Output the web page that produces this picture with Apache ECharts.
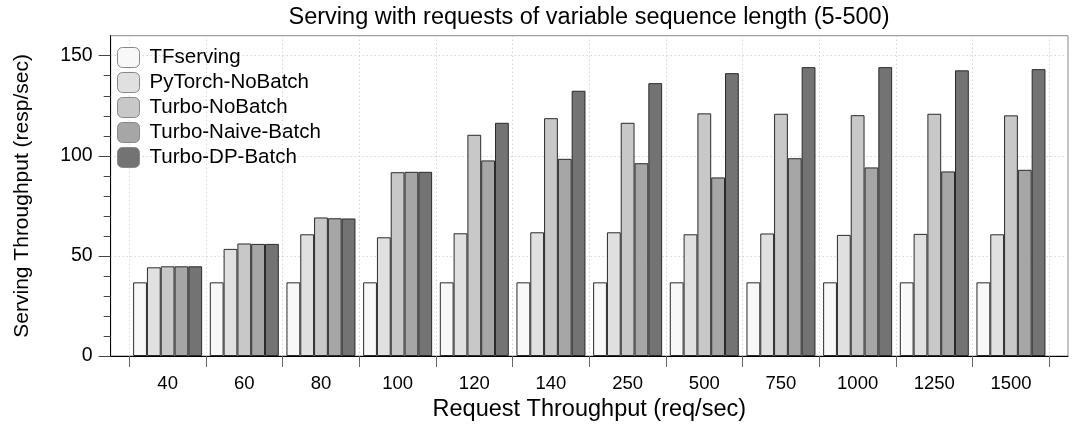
<!DOCTYPE html>
<html>
<head>
<meta charset="utf-8">
<script src="https://cdn.jsdelivr.net/npm/echarts@6/dist/echarts.min.js"></script>
<style>
html,body{margin:0;padding:0;background:#fff;}
#chart{width:1080px;height:434px;}
</style>
</head>
<body>
<div id="chart"></div>
<script>
const categories = ['40','60','80','100','120','140','250','500','750','1000','1250','1500'];
const tfserving = [36.8,36.8,36.8,36.8,36.8,36.8,36.8,36.8,36.8,36.8,36.8,36.8];
const pytorchNoBatch = [44.3,53.5,60.8,59.3,61.3,61.8,61.8,60.8,61.2,60.5,61.0,60.8];
const turboNoBatch = [44.8,56.2,69.2,91.8,110.5,118.8,116.5,121.2,121.0,120.3,121.0,120.2];
const turboNaiveBatch = [44.8,56.0,68.8,92.0,97.7,98.5,96.3,89.2,98.8,94.2,92.2,93.0];
const turboDPBatch = [44.8,56.0,68.7,92.0,116.5,132.5,136.3,141.3,144.3,144.3,142.7,143.3];
const seriesNames = ['TFserving','PyTorch-NoBatch','Turbo-NoBatch','Turbo-Naive-Batch','Turbo-DP-Batch'];
const seriesData = [tfserving, pytorchNoBatch, turboNoBatch, turboNaiveBatch, turboDPBatch];
const seriesColors = ['#f8f8f8','#e0e0e0','#c8c8c8','#a6a6a6','#737373'];
const yMajorTicks = [0,50,100,150];
const yMinorTicks = [10,20,30,40,60,70,80,90,110,120,130,140];

const FONT = '"Liberation Sans", Helvetica, Arial, sans-serif';
const chart = echarts.init(document.getElementById('chart'), null, {renderer:'canvas'});

const option = {
  backgroundColor: '#fff',
  animation: false,
  textStyle: {fontFamily: FONT},
  title: {
    text: 'Serving with requests of variable sequence length (5-500)',
    left: 589, top: 6, textAlign: 'center', padding: 0,
    textStyle: {fontFamily: FONT, fontSize: 23.5, fontWeight: 'normal', color: '#000'}
  },
  legend: {
    orient: 'vertical', left: 117, top: 47, padding: 0,
    itemWidth: 22, itemHeight: 20, itemGap: 4,
    icon: 'roundRect',
    itemStyle: {borderColor: '#888', borderWidth: 1},
    textStyle: {fontFamily: FONT, fontSize: 20.5, lineHeight: 20, color: '#000', padding: [0,0,0,5]},
    data: seriesNames
  },
  grid: [
    {left: 110.7, right: 12, top: 35.7, bottom: 78, show: true, borderColor: '#888', borderWidth: 1, backgroundColor: 'transparent'},
    {left: 129.3, right: 30.7, top: 35.7, bottom: 78}
  ],
  xAxis: [
    {gridIndex: 0, type: 'value', min: 0, max: 1, show: true,
     axisLine: {show: true, lineStyle: {color: '#000', width: 1}},
     axisTick: {show: false}, axisLabel: {show: false}, splitLine: {show: false}},
    {gridIndex: 1, type: 'category', data: categories, boundaryGap: true,
     axisLine: {show: false},
     axisTick: {show: true, length: 11, lineStyle: {color: '#666'}},
     axisLabel: {fontFamily: FONT, fontSize: 18.5, color: '#000', margin: 18},
     splitLine: {show: true, lineStyle: {color: '#c4c4c4', type: [1,3], width: 1}},
     name: 'Request Throughput (req/sec)', nameLocation: 'middle', nameGap: 42,
     nameTextStyle: {fontFamily: FONT, fontSize: 23.5, color: '#000', verticalAlign: 'top'}}
  ],
  yAxis: [
    {gridIndex: 0, type: 'value', min: 0, max: 160, interval: 50, position: 'left',
     axisLine: {show: true, lineStyle: {color: '#000', width: 1}},
     axisTick: {show: true, length: 12, customValues: yMajorTicks, lineStyle: {color: '#444'}},
     axisLabel: {fontFamily: FONT, fontSize: 19.5, color: '#000', margin: 18, customValues: yMajorTicks},
     splitLine: {show: true, lineStyle: {color: '#c4c4c4', type: [1,3], width: 1}},
     name: 'Serving Throughput (resp/sec)', nameLocation: 'middle', nameGap: 78, nameRotate: 90,
     nameTextStyle: {fontFamily: FONT, fontSize: 21, color: '#000'}},
    {gridIndex: 0, type: 'value', min: 0, max: 160, interval: 10, position: 'left', offset: 0,
     axisLine: {show: false},
     axisTick: {show: true, length: 7, customValues: yMinorTicks, lineStyle: {color: '#444'}},
     axisLabel: {show: false}, splitLine: {show: false}},
    {gridIndex: 1, type: 'value', min: 0, max: 160, show: false, splitLine: {show: false}}
  ],
  series: seriesNames.map((name, i) => ({
    name: name,
    type: 'bar',
    xAxisIndex: 1, yAxisIndex: 2,
    data: seriesData[i],
    barGap: '0%',
    barCategoryGap: '10%',
    itemStyle: {color: seriesColors[i], borderColor: '#2a2a2a', borderWidth: 1}
  }))
};
chart.setOption(option);
</script>
</body>
</html>
